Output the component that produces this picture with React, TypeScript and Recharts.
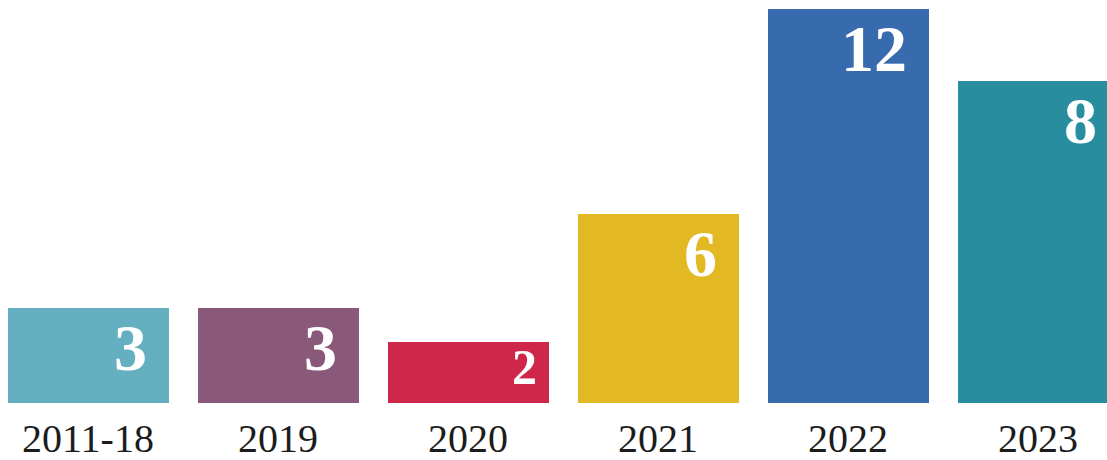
import React from "react";
import { BarChart, Bar, XAxis, YAxis, Cell, LabelList } from "recharts";

const categories = ["2011-18", "2019", "2020", "2021", "2022", "2023"];
const barLengths = [2.89, 2.89, 1.86, 5.76, 12, 9.81];
const valueLabels = ["3", "3", "2", "6", "12", "8"];
const colors = ["#64B0C1", "#8A5879", "#CE2749", "#E3B923", "#376BAD", "#288E9F"];

const data = categories.map((c, i) => ({
  name: c,
  value: barLengths[i],
  label: valueLabels[i],
}));

const SERIF = '"Liberation Serif", Tinos, "Times New Roman", Times, serif';

const Tick = (props: any) => {
  const { x, y, payload } = props;
  return (
    <text
      x={x}
      y={y + 49}
      textAnchor="middle"
      style={{ fontFamily: SERIF, fontSize: 40 }}
      fill="#1c1c1c"
    >
      {payload.value}
    </text>
  );
};

const ValueLabel = (props: any) => {
  const { x, y, width, height, value } = props;
  const small = height < 80;
  const fs = small ? 50 : 66;
  const baseline = small ? 42 : 62;
  const inset = small ? 12 : 22;
  return (
    <text
      x={x + width - inset}
      y={y + baseline}
      textAnchor="end"
      style={{ fontFamily: SERIF, fontSize: fs, fontWeight: 700 }}
      fill="#ffffff"
    >
      {value}
    </text>
  );
};

export default function App() {
  return (
    <div
      style={{
        position: "absolute",
        left: 0,
        top: 0,
        width: 1107,
        height: 460,
        overflow: "hidden",
        background: "#ffffff",
      }}
    >
      <div style={{ marginLeft: -7.5 }}>
        <BarChart
          width={1140}
          height={460}
          data={data}
          margin={{ top: 9, right: 0, bottom: 0, left: 0 }}
        >
          <XAxis
            dataKey="name"
            axisLine={false}
            tickLine={false}
            tickSize={0}
            tickMargin={0}
            height={57}
            interval={0}
            tick={<Tick />}
          />
          <YAxis hide domain={[0, 12]} />
          <Bar dataKey="value" barSize={161} isAnimationActive={false}>
            {data.map((d, i) => (
              <Cell key={d.name} fill={colors[i]} />
            ))}
            <LabelList dataKey="label" content={<ValueLabel />} />
          </Bar>
        </BarChart>
      </div>
    </div>
  );
}
